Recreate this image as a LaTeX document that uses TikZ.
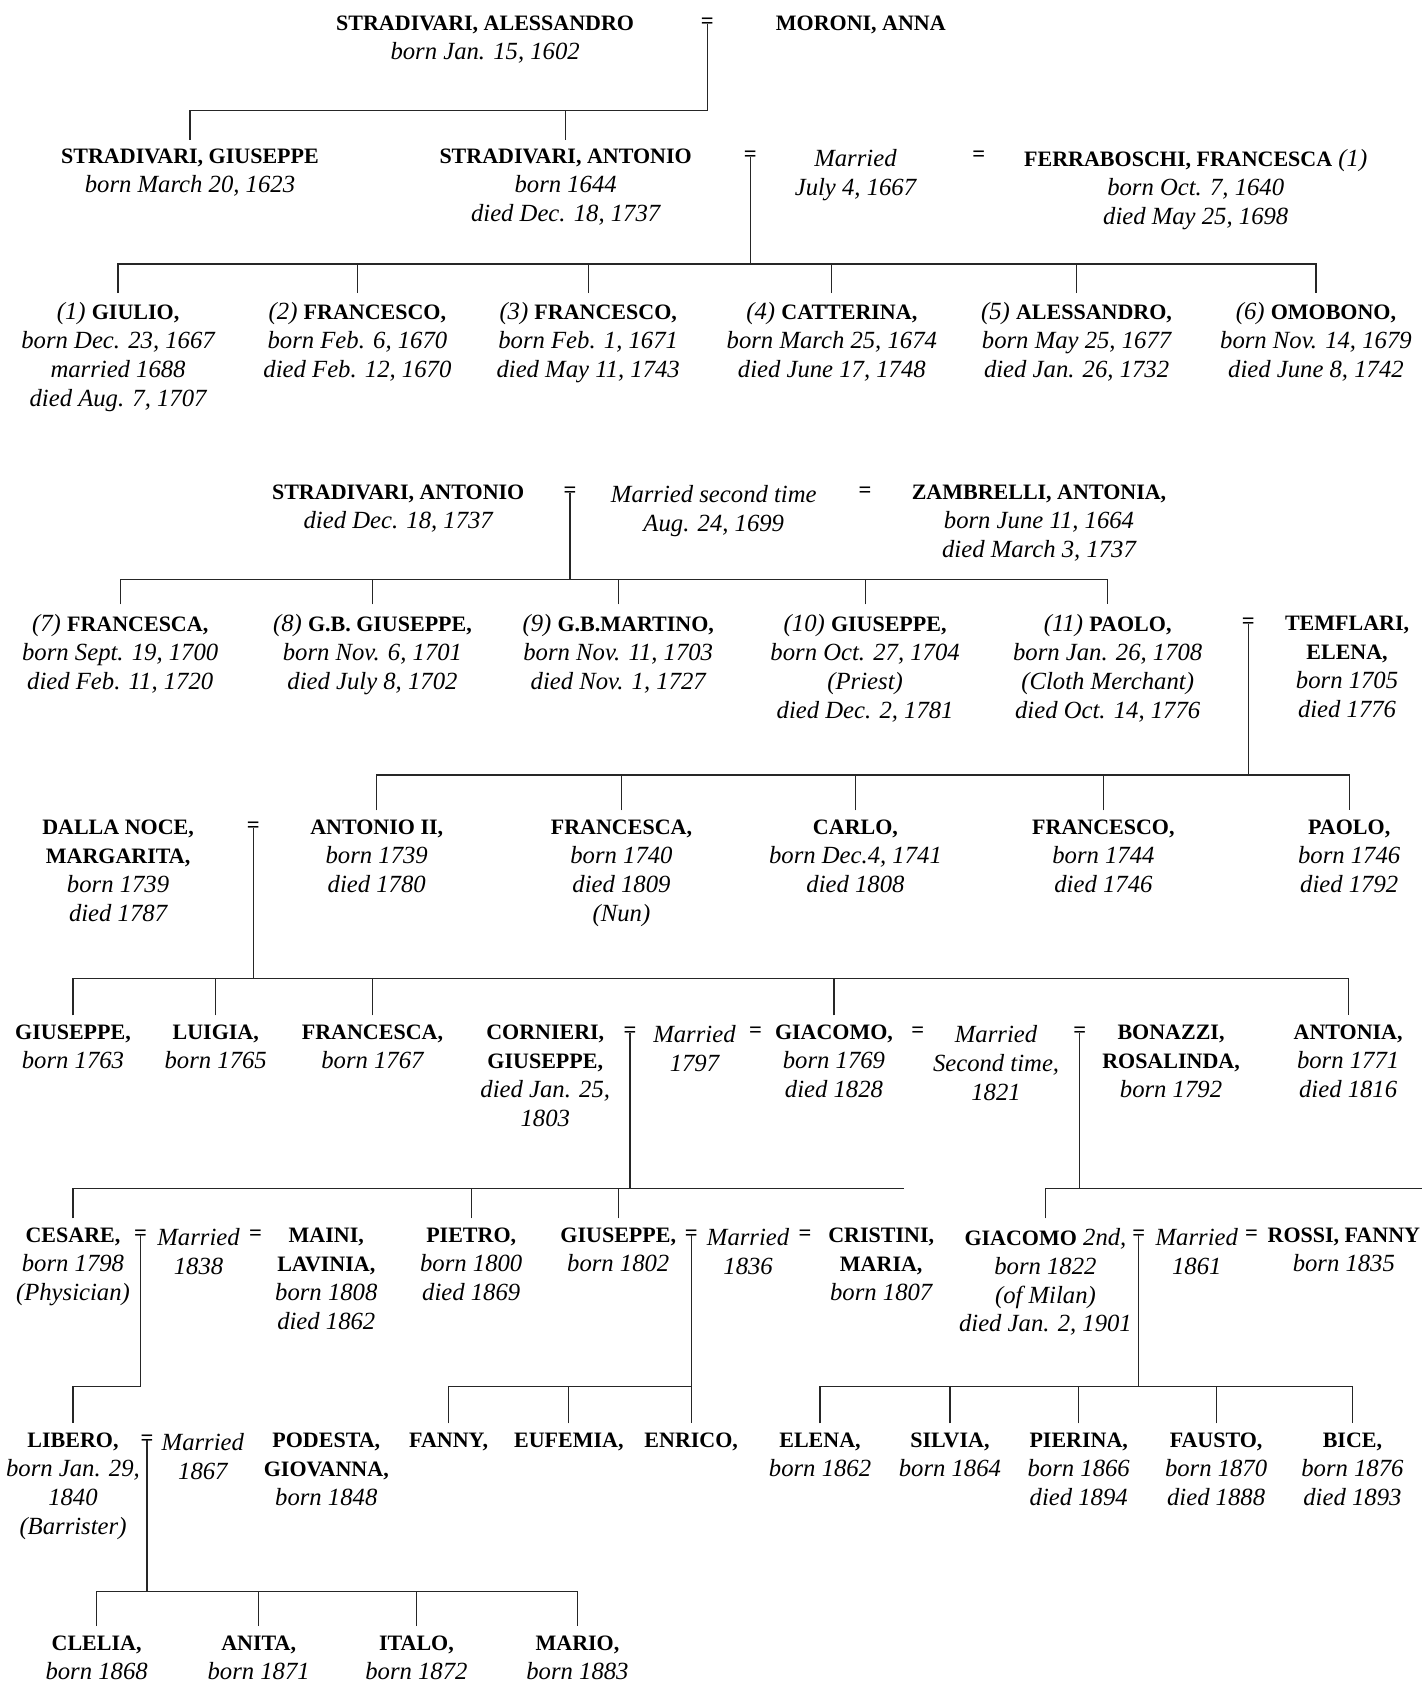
\documentclass[tikz,border=0pt]{standalone}
\usepackage{fontspec}
\setmainfont{Liberation Serif}

\newcommand{\dtfont}{\fontsize{23}{27}\selectfont\itshape}
\newcommand{\pname}[1]{{\fontsize{20.5}{27}\selectfont\bfseries\upshape #1}}

\begin{document}
\begin{tikzpicture}[x=1pt, y=-1pt,
  person/.style={anchor=north, align=center, inner xsep=0pt, inner ysep=0pt, outer ysep=9pt, font=\dtfont},
  wed/.style={inner sep=0pt, font=\fontsize{21}{27}\selectfont\bfseries},
  famline/.style={line width=1.1pt, draw=black!85}]

\useasboundingbox (0,0) rectangle (1325,1568);

% first generations
\node[person] (alessandro) at (452,6) {\pname{STRADIVARI, ALESSANDRO}\\born Jan. 15, 1602};
\node[wed] (w0) at (659,22) {=};
\node[person] (anna) at (802,6) {\pname{MORONI, ANNA}};

\node[person] (giuseppe) at (177,130) {\pname{STRADIVARI, GIUSEPPE}\\born March 20, 1623};
\node[person] (antonio) at (527,130) {\pname{STRADIVARI, ANTONIO}\\born 1644\\died Dec. 18, 1737};
\node[wed] (w1) at (699,146) {=};
\node[person] (married1) at (797,130) {Married\\July 4, 1667};
\node[wed] (e1) at (912,146) {=};
\node[person] (ferraboschi) at (1114,130) {\pname{FERRABOSCHI, FRANCESCA} (1)\\born Oct. 7, 1640\\died May 25, 1698};

\node[person] (giulio) at (110,273) {(1) \pname{GIULIO,}\\born Dec. 23, 1667\\married 1688\\died Aug. 7, 1707};
\node[person] (francescoA) at (333,273) {(2) \pname{FRANCESCO,}\\born Feb. 6, 1670\\died Feb. 12, 1670};
\node[person] (francescoB) at (548,273) {(3) \pname{FRANCESCO,}\\born Feb. 1, 1671\\died May 11, 1743};
\node[person] (catterina) at (775,273) {(4) \pname{CATTERINA,}\\born March 25, 1674\\died June 17, 1748};
\node[person] (alessandroB) at (1003,273) {(5) \pname{ALESSANDRO,}\\born May 25, 1677\\died Jan. 26, 1732};
\node[person] (omobono) at (1226,273) {(6) \pname{OMOBONO,}\\born Nov. 14, 1679\\died June 8, 1742};

% second marriage
\node[person] (antonioB) at (371,443) {\pname{STRADIVARI, ANTONIO}\\died Dec. 18, 1737};
\node[wed] (w3) at (531,459) {=};
\node[person] (married3) at (665,443) {Married second time\\Aug. 24, 1699};
\node[wed] (e3) at (806,459) {=};
\node[person] (zambrelli) at (968,443) {\pname{ZAMBRELLI, ANTONIA,}\\born June 11, 1664\\died March 3, 1737};

\node[person] (francescaA) at (112,563) {(7) \pname{FRANCESCA,}\\born Sept. 19, 1700\\died Feb. 11, 1720};
\node[person] (gbgiuseppe) at (347,563) {(8) \pname{G.B. GIUSEPPE,}\\born Nov. 6, 1701\\died July 8, 1702};
\node[person] (gbmartino) at (576,563) {(9) \pname{G.B.MARTINO,}\\born Nov. 11, 1703\\died Nov. 1, 1727};
\node[person] (giuseppeB) at (806,563) {(10) \pname{GIUSEPPE,}\\born Oct. 27, 1704\\(Priest)\\died Dec. 2, 1781};
\node[person] (paolo) at (1032,563) {(11) \pname{PAOLO,}\\born Jan. 26, 1708\\(Cloth Merchant)\\died Oct. 14, 1776};
\node[wed] (w4) at (1163,581) {=};
\node[person] (temflari) at (1255,565) {\pname{TEMFLARI,}\\\pname{ELENA,}\\born 1705\\died 1776};

% Paolo's line
\node[person] (dallanoce) at (110,755) {\pname{DALLA NOCE,}\\\pname{MARGARITA,}\\born 1739\\died 1787};
\node[wed] (w5) at (236,771) {=};
\node[person] (antonioII) at (351,755) {\pname{ANTONIO II,}\\born 1739\\died 1780};
\node[person] (francescaB) at (579,755) {\pname{FRANCESCA,}\\born 1740\\died 1809\\(Nun)};
\node[person] (carlo) at (797,755) {\pname{CARLO,}\\born Dec.4, 1741\\died 1808};
\node[person] (francescoC) at (1028,755) {\pname{FRANCESCO,}\\born 1744\\died 1746};
\node[person] (paoloB) at (1257,755) {\pname{PAOLO,}\\born 1746\\died 1792};

\node[person] (giuseppeC) at (68,946) {\pname{GIUSEPPE,}\\born 1763};
\node[person] (luigia) at (201,946) {\pname{LUIGIA,}\\born 1765};
\node[person] (francescaC) at (347,946) {\pname{FRANCESCA,}\\born 1767};
\node[person] (cornieri) at (508,946) {\pname{CORNIERI,}\\\pname{GIUSEPPE,}\\died Jan. 25,\\1803};
\node[wed] (w6a) at (587,962) {=};
\node[person] (married6a) at (647,946) {Married\\1797};
\node[wed] (e6a) at (704,962) {=};
\node[person] (giacomo) at (777,946) {\pname{GIACOMO,}\\born 1769\\died 1828};
\node[wed] (e6b) at (855,962) {=};
\node[person] (married6b) at (928,946) {Married\\Second time,\\1821};
\node[wed] (w6b) at (1006,962) {=};
\node[person] (bonazzi) at (1091,946) {\pname{BONAZZI,}\\\pname{ROSALINDA,}\\born 1792};
\node[person] (antonia) at (1256,946) {\pname{ANTONIA,}\\born 1771\\died 1816};

\node[person] (cesare) at (68,1135) {\pname{CESARE,}\\born 1798\\(Physician)};
\node[wed] (w7a) at (131,1151) {=};
\node[person] (married7a) at (185,1135) {Married\\1838};
\node[wed] (e7a) at (238,1151) {=};
\node[person] (maini) at (304,1135) {\pname{MAINI,}\\\pname{LAVINIA,}\\born 1808\\died 1862};
\node[person] (pietro) at (439,1135) {\pname{PIETRO,}\\born 1800\\died 1869};
\node[person] (giuseppeD) at (576,1135) {\pname{GIUSEPPE,}\\born 1802};
\node[wed] (w7b) at (644,1151) {=};
\node[person] (married7b) at (697,1135) {Married\\1836};
\node[wed] (e7b) at (750,1151) {=};
\node[person] (cristini) at (821,1135) {\pname{CRISTINI,}\\\pname{MARIA,}\\born 1807};
\node[person] (giacomoB) at (974,1135) {\pname{GIACOMO} 2nd,\\born 1822\\(of Milan)\\died Jan. 2, 1901};
\node[wed] (w7c) at (1061,1151) {=};
\node[person] (married7c) at (1115,1135) {Married\\1861};
\node[wed] (e7c) at (1166,1151) {=};
\node[person] (rossi) at (1252,1135) {\pname{ROSSI, FANNY}\\born 1835};

\node[person] (libero) at (68,1326) {\pname{LIBERO,}\\born Jan. 29,\\1840\\(Barrister)};
\node[wed] (w8) at (137,1342) {=};
\node[person] (married8) at (189,1326) {Married\\1867};
\node[person] (podesta) at (304,1326) {\pname{PODESTA,}\\\pname{GIOVANNA,}\\born 1848};
\node[person] (fanny) at (418,1326) {\pname{FANNY,}};
\node[person] (eufemia) at (530,1326) {\pname{EUFEMIA,}};
\node[person] (enrico) at (644,1326) {\pname{ENRICO,}};
\node[person] (elena) at (764,1326) {\pname{ELENA,}\\born 1862};
\node[person] (silvia) at (885,1326) {\pname{SILVIA,}\\born 1864};
\node[person] (pierina) at (1005,1326) {\pname{PIERINA,}\\born 1866\\died 1894};
\node[person] (fausto) at (1133,1326) {\pname{FAUSTO,}\\born 1870\\died 1888};
\node[person] (bice) at (1260,1326) {\pname{BICE,}\\born 1876\\died 1893};

\node[person] (clelia) at (90,1515) {\pname{CLELIA,}\\born 1868};
\node[person] (anita) at (241,1515) {\pname{ANITA,}\\born 1871};
\node[person] (italo) at (388,1515) {\pname{ITALO,}\\born 1872};
\node[person] (mario) at (538,1515) {\pname{MARIO,}\\born 1883};

% family bars
\coordinate (bar0) at (0,103);
\coordinate (bar1) at (0,246);
\coordinate (bar3) at (0,540);
\coordinate (bar4) at (0,722);
\coordinate (bar5) at (0,912);
\coordinate (bar6) at (0,1107);
\coordinate (end6a) at (842,1107);
\coordinate (end6b) at (1325,1107);
\coordinate (bar7) at (0,1292);
\coordinate (bar8) at (0,1483);

\draw[famline] (w0.center) -- (w0.center |- bar0) -- (giuseppe.north |- bar0) -- (giuseppe.north)
  (antonio.north) -- (antonio.north |- bar0);

\draw[famline] (w1.center) -- (w1.center |- bar1)
  (giulio.north) -- (giulio.north |- bar1) -- (omobono.north |- bar1) -- (omobono.north)
  (francescoA.north) -- (francescoA.north |- bar1)
  (francescoB.north) -- (francescoB.north |- bar1)
  (catterina.north) -- (catterina.north |- bar1)
  (alessandroB.north) -- (alessandroB.north |- bar1);

\draw[famline] (w3.center) -- (w3.center |- bar3)
  (francescaA.north) -- (francescaA.north |- bar3) -- (paolo.north |- bar3) -- (paolo.north)
  (gbgiuseppe.north) -- (gbgiuseppe.north |- bar3)
  (gbmartino.north) -- (gbmartino.north |- bar3)
  (giuseppeB.north) -- (giuseppeB.north |- bar3);

\draw[famline] (w4.center) -- (w4.center |- bar4)
  (antonioII.north) -- (antonioII.north |- bar4) -- (paoloB.north |- bar4) -- (paoloB.north)
  (francescaB.north) -- (francescaB.north |- bar4)
  (carlo.north) -- (carlo.north |- bar4)
  (francescoC.north) -- (francescoC.north |- bar4);

\draw[famline] (w5.center) -- (w5.center |- bar5)
  (giuseppeC.north) -- (giuseppeC.north |- bar5) -- (antonia.north |- bar5) -- (antonia.north)
  (luigia.north) -- (luigia.north |- bar5)
  (francescaC.north) -- (francescaC.north |- bar5)
  (giacomo.north) -- (giacomo.north |- bar5);

\draw[famline] (w6a.center) -- (w6a.center |- bar6)
  (cesare.north) -- (cesare.north |- bar6) -- (end6a)
  (pietro.north) -- (pietro.north |- bar6)
  (giuseppeD.north) -- (giuseppeD.north |- bar6);

\draw[famline] (w6b.center) -- (w6b.center |- bar6)
  (giacomoB.north) -- (giacomoB.north |- bar6) -- (end6b);

\draw[famline] (w7a.center) -- (w7a.center |- bar7) -| (libero.north);

\draw[famline] (w7b.center) -- (enrico.north)
  (fanny.north) -- (fanny.north |- bar7) -- (enrico.north |- bar7)
  (eufemia.north) -- (eufemia.north |- bar7);

\draw[famline] (w7c.center) -- (w7c.center |- bar7)
  (elena.north) -- (elena.north |- bar7) -- (bice.north |- bar7) -- (bice.north)
  (silvia.north) -- (silvia.north |- bar7)
  (pierina.north) -- (pierina.north |- bar7)
  (fausto.north) -- (fausto.north |- bar7);

\draw[famline] (w8.center) -- (w8.center |- bar8)
  (clelia.north) -- (clelia.north |- bar8) -- (mario.north |- bar8) -- (mario.north)
  (anita.north) -- (anita.north |- bar8)
  (italo.north) -- (italo.north |- bar8);

\end{tikzpicture}
\end{document}
